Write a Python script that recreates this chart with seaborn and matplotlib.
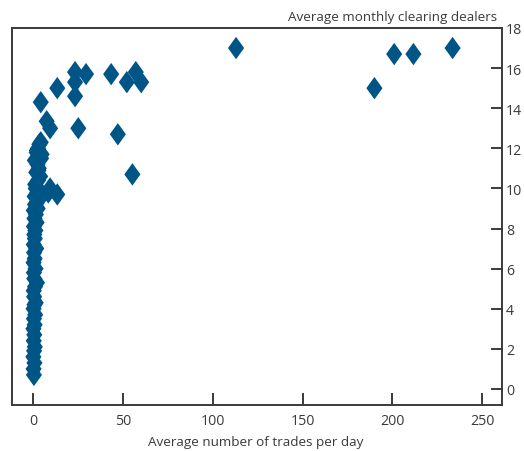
import pandas as pd
import seaborn as sns
import matplotlib.pyplot as plt

# larger points
trades_outer = [113, 190, 201, 211.7, 233.5,
                4.3, 13.5, 23.4, 29.5, 23.4, 23.4, 43.5, 52.2, 57.2, 60.2,
                7.6, 9.5, 25.2, 47.2, 55.3, 4.3, 13.5, 8.5, 9.5]
dealers_outer = [17.0, 15.0, 16.7, 16.7, 17.0,
                 14.3, 15.0, 15.8, 15.7, 15.3, 14.6, 15.7, 15.3, 15.8, 15.3,
                 13.35, 13.0, 13.0, 12.7, 10.7, 12.3, 9.7, 9.8, 10.0]

# the dense column near zero trades
trades_dense = [0.5, 0.3, 0.8, 0.2, 0.6, 1.0, 0.4, 0.7, 0.2, 0.9,
                0.5, 1.2, 0.3, 0.8, 1.5, 0.6, 0.4, 1.1, 2.2, 0.7,
                0.5, 1.4, 0.3, 0.9, 0.6, 1.8, 0.4, 1.0, 0.7, 1.3,
                0.5, 2.0, 0.8, 1.6, 0.4, 2.6, 1.1, 3.0, 0.9, 2.4,
                1.5, 3.5, 1.2, 2.8, 4.0, 1.8, 3.2, 2.5, 1.0, 3.8,
                2.0, 4.5, 2.8, 3.5, 2.2, 4.8, 3.0]
dealers_dense = [0.7, 1.0, 1.3, 1.6, 1.9, 2.1, 2.4, 2.7, 3.0, 3.2,
                 3.5, 3.7, 4.0, 4.2, 4.3, 4.6, 4.9, 5.1, 5.3, 5.5,
                 5.8, 6.0, 6.3, 6.5, 6.8, 7.0, 7.2, 7.5, 7.7, 7.9,
                 8.1, 8.3, 8.5, 8.7, 8.9, 9.0, 9.2, 9.4, 9.6, 9.8,
                 10.0, 9.9, 10.2, 10.4, 10.6, 10.8, 11.0, 11.2, 11.4, 11.6,
                 11.8, 11.5, 12.0, 12.2, 11.9, 11.7, 10.9]

df = pd.DataFrame({
    "trades": trades_dense + trades_outer,
    "dealers": dealers_dense + dealers_outer,
})

sns.set_theme(style="ticks")
plt.rcParams["font.family"] = ["Open Sans", "DejaVu Sans"]

blue = "#005587"
ink = "#3a3a3a"
diamond = [(0, 1), (0.72, 0), (0, -1), (-0.72, 0)]

fig = plt.figure(figsize=(5.24, 4.52), dpi=100)
ax = fig.add_axes([12 / 524, 1 - 406 / 452, 490 / 524, 377 / 452])

sns.scatterplot(data=df, x="trades", y="dealers", marker=diamond, s=260,
                color=blue, edgecolor="none", linewidth=0, ax=ax, zorder=3)

ax.set_xlim(-11.7, 261)
ax.set_ylim(-0.8, 18)
ax.set_xticks([0, 50, 100, 150, 200, 250])
ax.set_yticks(range(0, 19, 2))

ax.yaxis.tick_right()
ax.tick_params(axis="x", which="major", direction="in", length=9, width=1.4,
               color=ink, labelsize=10.2, labelcolor=ink, pad=6,
               bottom=True, top=False)
ax.tick_params(axis="y", which="major", direction="in", length=8, width=1.4,
               color=ink, labelsize=10.2, labelcolor=ink, pad=3,
               right=True, left=False, labelright=True, labelleft=False)
for sp in ax.spines.values():
    sp.set_visible(True)
    sp.set_color(ink)
    sp.set_linewidth(1.4)

ax.set_xlabel("")
ax.set_ylabel("")
fig.text(497 / 524, 1 - 17 / 452, "Average monthly clearing dealers",
         ha="right", va="center", fontsize=9.7, color=ink)
fig.text(256 / 524, 1 - 443 / 452, "Average number of trades per day",
         ha="center", va="center", fontsize=9.7, color=ink)

fig.savefig("out.png", dpi=100)
